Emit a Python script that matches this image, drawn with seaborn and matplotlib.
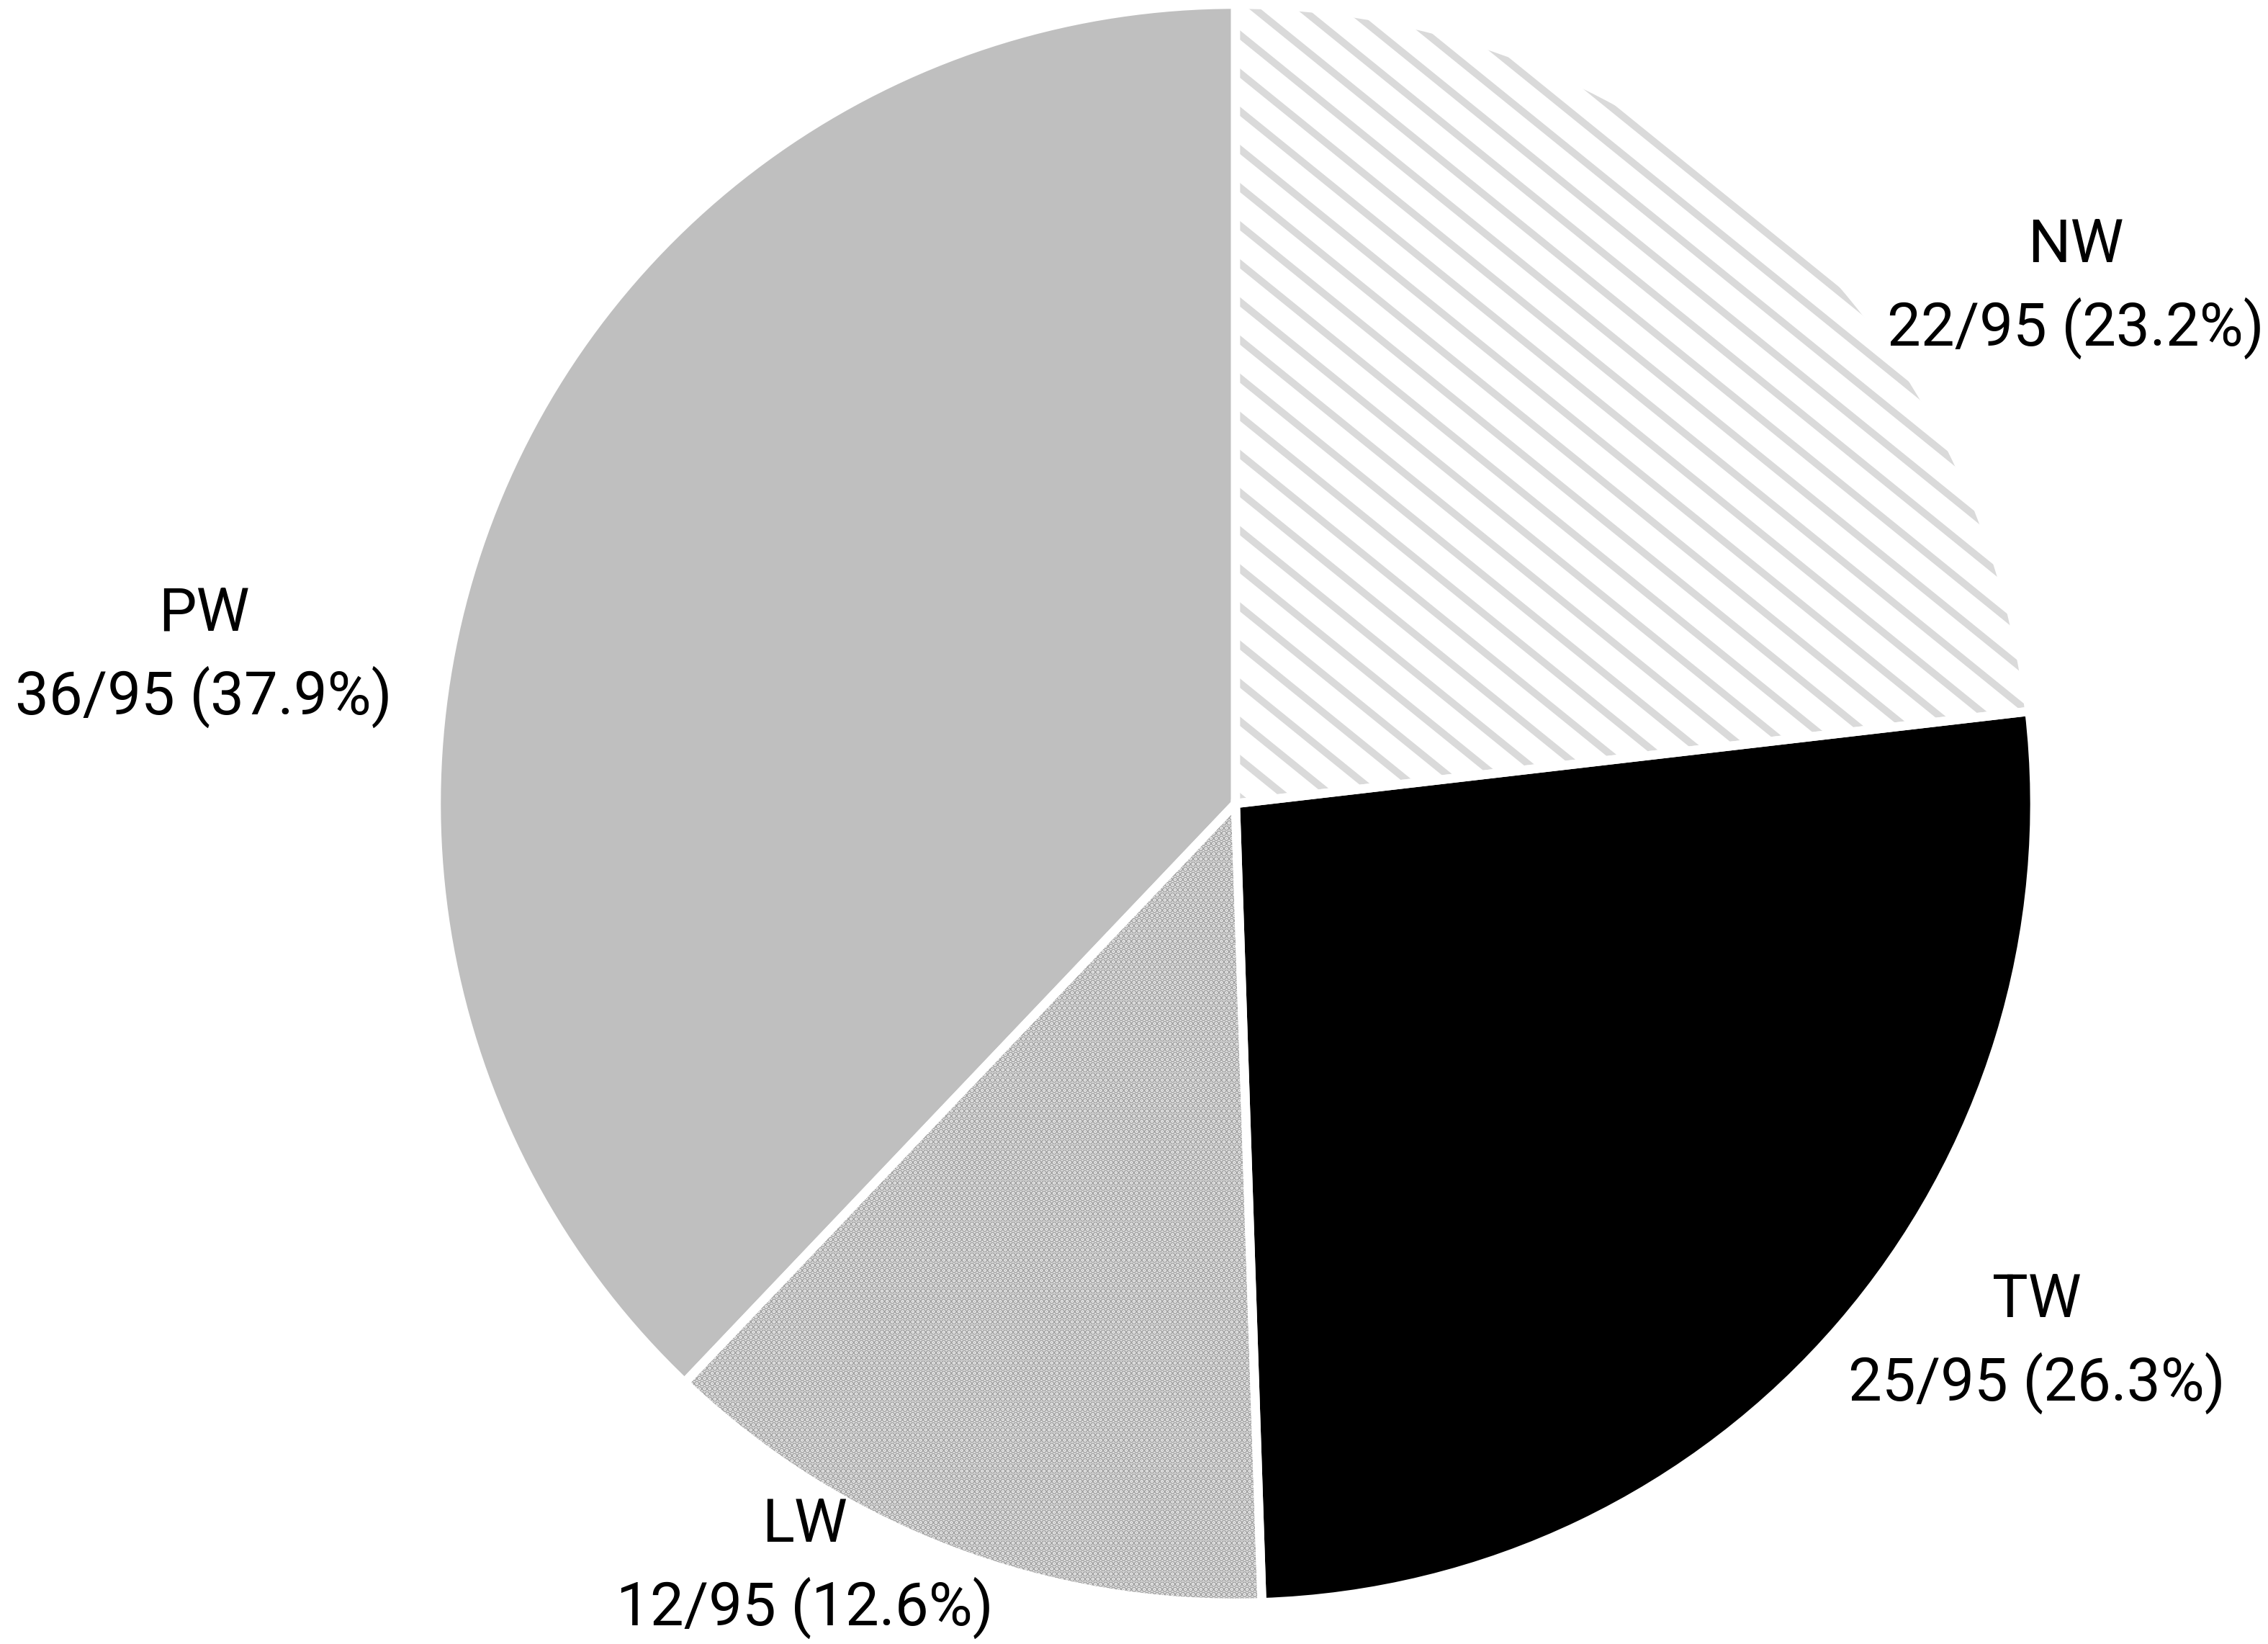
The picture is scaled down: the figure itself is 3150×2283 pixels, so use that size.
import matplotlib
matplotlib.use("Agg")
import matplotlib.pyplot as plt
from matplotlib.collections import LineCollection
import numpy as np
import seaborn as sns

# data
groups = ["NW", "TW", "LW", "PW"]
counts = [22, 25, 12, 36]
total = 95

# styling / layout (not data)
face = ["white", "black", "#ececec", "#bfbfbf"]
hatch_col = ["#dadada", "black", "#a3a3a3", "#bfbfbf"]
hatches = [None, None, ".......", None]
label_xy = [(1.051, 0.573), (1.003, -0.747), (-0.539, -1.028), (-1.291, 0.112)]

sns.set_style("white")
plt.rcParams["font.family"] = ["Roboto", "DejaVu Sans"]
plt.rcParams["hatch.linewidth"] = 1.4

fig = plt.figure(figsize=(10.5, 7.61), dpi=300)
ax = fig.add_axes([0, 0, 1, 1])

wedges, _ = ax.pie(counts, startangle=90, counterclock=False, colors=face,
                   radius=1, wedgeprops=dict(linewidth=0))
for w, h, hc in zip(wedges, hatches, hatch_col):
    if h:
        w.set_edgecolor(hc)
        w.set_hatch(h)
        w.set_linewidth(0)

# diagonal stripe texture for the NW wedge (like Excel's wide downward diagonal)
slope, step = -0.81, 0.0477
offsets = 0.680 + step * np.arange(-60, 60)
xs = np.array([-1.2, 1.2])
segs = [np.column_stack([xs, slope * xs + b]) for b in offsets]
stripes = LineCollection(segs, colors=hatch_col[0], linewidths=2.4, zorder=1.5)
ax.add_collection(stripes)
stripes.set_clip_path(wedges[0])

# white separators on top
ax.pie(counts, startangle=90, counterclock=False, colors=["none"] * 4, radius=1,
       wedgeprops=dict(edgecolor="white", linewidth=3, zorder=3))

for g, c, (x, y) in zip(groups, counts, label_xy):
    ax.text(x, y, f"{g}\n{c}/{total} ({c / total * 100:.1f}%)", ha="center",
            va="baseline", fontsize=20, linespacing=1.47, color="black")

ax.set_aspect("equal")
ax.set_xlim(-1.546, 1.292)
ax.set_ylim(-1.051, 1.005)
ax.axis("off")
fig.savefig("out.png", dpi=300, facecolor="white")
